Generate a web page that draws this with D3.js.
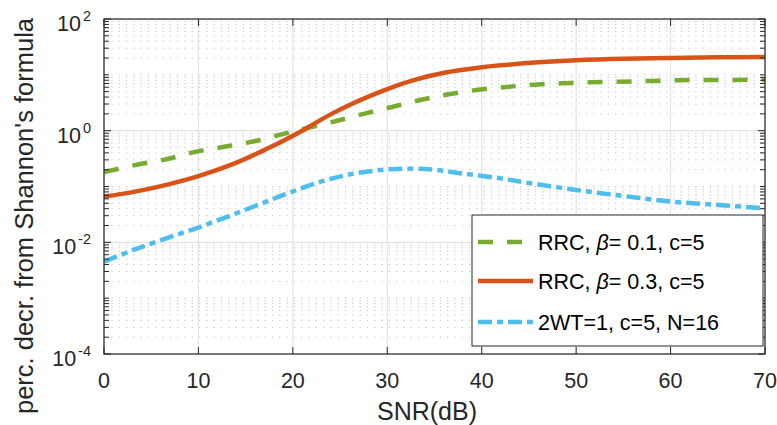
<!DOCTYPE html>
<html>
<head>
<meta charset="utf-8">
<script src="https://cdn.jsdelivr.net/npm/d3@7"></script>
<style>
  body { margin: 0; background: #fff; }
  svg { display: block; font-family: "Liberation Sans", Arial, Helvetica, sans-serif; }
</style>
</head>
<body>
<div id="graph"></div>
<script>
// values
const xTicks = [0, 10, 20, 30, 40, 50, 60, 70];
const yTickExp = [-4, -2, 0, 2];

const snrGreen = [0, 3.7, 6.7, 9.6, 12.6, 15.6, 18.6, 21.6, 24.6, 27.5, 30.5, 33.5, 36.5, 39.5, 42.6, 45.6, 48.6, 51.6, 54.7, 57.7, 60.8, 63.8, 66.8, 70];
const valGreen = [0.182, 0.25, 0.31, 0.415, 0.51, 0.63, 0.84, 1.12, 1.49, 2.0, 2.66, 3.55, 4.49, 5.36, 6.06, 6.67, 7.06, 7.36, 7.55, 7.77, 8.0, 8.09, 8.12, 8.2];

const snrRed = [0, 3, 6.5, 10, 13.7, 17.2, 19, 20.8, 22.5, 24.2, 26, 28, 30, 32.8, 36.3, 39.8, 42, 46, 50, 55, 60, 65, 70];
const valRed = [0.0658, 0.0794, 0.106, 0.153, 0.254, 0.468, 0.661, 0.955, 1.41, 2.04, 2.88, 4.07, 5.56, 8.04, 11.1, 13.5, 14.8, 16.8, 18.3, 19.5, 20.1, 20.6, 20.9];

const snrBlue = [0, 3.1, 6.6, 10.2, 13.7, 17.2, 19, 20.8, 22.5, 24.3, 26.1, 28, 29.6, 31, 32.5, 34, 35.2, 38.1, 41.6, 44.8, 50, 55, 60, 65, 70];
const valBlue = [0.0045, 0.0073, 0.0118, 0.019, 0.0316, 0.0537, 0.0708, 0.0912, 0.115, 0.141, 0.166, 0.186, 0.1995, 0.2065, 0.209, 0.2065, 0.198, 0.17, 0.143, 0.117, 0.0867, 0.0676, 0.0537, 0.0468, 0.0407];

const legendLabels = [
  ["RRC, ", "\u03b2", "= 0.1, c=5"],
  ["RRC, ", "\u03b2", "= 0.3, c=5"],
  ["2WT=1, c=5, N=16", "", ""]
];

const w = 777;
const h = 425;
const mLeft = 104, mRight = 765, mTop = 19, mBottom = 354;
const axisColor = "#262626";

const series = [
  { x: snrGreen, y: valGreen, color: "#77AC30", dash: "15,14" },
  { x: snrRed, y: valRed, color: "#D95319", dash: null },
  { x: snrBlue, y: valBlue, color: "#4DBEEE", dash: "14,5,6,5" }
];

const xScale = d3.scaleLinear().domain([0, 70]).range([mLeft, mRight]);
const yScale = d3.scaleLog().domain([1e-4, 1e2]).range([mBottom, mTop]);

const svg = d3.select("#graph")
  .append("svg")
  .attr("width", w)
  .attr("height", h);

svg.append("defs").append("clipPath")
  .attr("id", "clip")
  .append("rect")
  .attr("x", mLeft)
  .attr("y", mTop)
  .attr("width", mRight - mLeft)
  .attr("height", mBottom - mTop);

// minor y values: k*10^n, skipping the labelled decades
const minorY = [];
for (let e = -4; e < 2; e++) {
  for (let k = 1; k <= 9; k++) {
    if (k === 1 && yTickExp.includes(e)) continue;
    minorY.push(k * Math.pow(10, e));
  }
}

// grid
svg.append("g")
  .selectAll("line")
  .data(minorY)
  .enter()
  .append("line")
  .attr("x1", mLeft)
  .attr("x2", mRight)
  .attr("y1", (d) => yScale(d))
  .attr("y2", (d) => yScale(d))
  .attr("stroke", "#c4c4c4")
  .attr("stroke-width", 1)
  .attr("stroke-dasharray", "1.3,6");

svg.append("g")
  .selectAll("line")
  .data(yTickExp)
  .enter()
  .append("line")
  .attr("x1", mLeft)
  .attr("x2", mRight)
  .attr("y1", (d) => yScale(Math.pow(10, d)))
  .attr("y2", (d) => yScale(Math.pow(10, d)))
  .attr("stroke", "#e3e3e3")
  .attr("stroke-width", 1.2);

svg.append("g")
  .selectAll("line")
  .data(xTicks)
  .enter()
  .append("line")
  .attr("x1", (d) => xScale(d))
  .attr("x2", (d) => xScale(d))
  .attr("y1", mTop)
  .attr("y2", mBottom)
  .attr("stroke", "#e3e3e3")
  .attr("stroke-width", 1.2);

// curves
const plot = svg.append("g").attr("clip-path", "url(#clip)");
series.forEach(function (s) {
  const pts = s.x.map((v, i) => [v, s.y[i]]);
  const line = d3.line()
    .x((d) => xScale(d[0]))
    .y((d) => yScale(d[1]))
    .curve(d3.curveCatmullRom);
  plot.append("path")
    .datum(pts)
    .attr("d", line)
    .attr("fill", "none")
    .attr("stroke", s.color)
    .attr("stroke-width", 4.5)
    .attr("stroke-dasharray", s.dash);
});

// axes box and ticks
svg.append("rect")
  .attr("x", mLeft)
  .attr("y", mTop)
  .attr("width", mRight - mLeft)
  .attr("height", mBottom - mTop)
  .attr("fill", "none")
  .attr("stroke", axisColor)
  .attr("stroke-width", 1.2);

const ticks = svg.append("g").attr("stroke", axisColor).attr("stroke-width", 1);
xTicks.forEach(function (d) {
  const x = xScale(d);
  ticks.append("line").attr("x1", x).attr("x2", x).attr("y1", mBottom).attr("y2", mBottom - 7);
  ticks.append("line").attr("x1", x).attr("x2", x).attr("y1", mTop).attr("y2", mTop + 7);
});
minorY.concat(yTickExp.map((e) => Math.pow(10, e))).forEach(function (d) {
  const y = yScale(d);
  const len = minorY.includes(d) ? 5 : 7;
  ticks.append("line").attr("x1", mLeft).attr("x2", mLeft + len).attr("y1", y).attr("y2", y);
  ticks.append("line").attr("x1", mRight).attr("x2", mRight - len).attr("y1", y).attr("y2", y);
});

// tick labels
svg.append("g")
  .selectAll("text")
  .data(xTicks)
  .enter()
  .append("text")
  .attr("x", (d) => xScale(d))
  .attr("y", 388)
  .attr("text-anchor", "middle")
  .attr("font-size", 21.5)
  .attr("fill", axisColor)
  .text((d) => d);

const yl = svg.append("g")
  .selectAll("text")
  .data(yTickExp)
  .enter()
  .append("text")
  .attr("x", 91)
  .attr("y", (d) => yScale(Math.pow(10, d)) + 12)
  .attr("text-anchor", "end")
  .attr("font-size", 21.5)
  .attr("fill", axisColor);
yl.append("tspan").text("10");
yl.append("tspan")
  .attr("dx", 2)
  .attr("dy", -10)
  .attr("font-size", 14.5)
  .text((d) => d);

// axis titles
svg.append("text")
  .attr("x", 427)
  .attr("y", 420)
  .attr("text-anchor", "middle")
  .attr("font-size", 25)
  .attr("fill", axisColor)
  .text("SNR(dB)");

svg.append("text")
  .attr("transform", "translate(33, 216) rotate(-90)")
  .attr("text-anchor", "middle")
  .attr("font-size", 25.5)
  .attr("fill", axisColor)
  .text("perc. decr. from Shannon's formula");

// legend
const lg = svg.append("g");
lg.append("rect")
  .attr("x", 472)
  .attr("y", 215)
  .attr("width", 291)
  .attr("height", 131)
  .attr("fill", "#fff")
  .attr("stroke", axisColor)
  .attr("stroke-width", 1);

const rowY = [242, 281, 322];
series.forEach(function (s, i) {
  lg.append("line")
    .attr("x1", 478)
    .attr("x2", 533)
    .attr("y1", rowY[i])
    .attr("y2", rowY[i])
    .attr("stroke", s.color)
    .attr("stroke-width", 4.5)
    .attr("stroke-dasharray", s.dash);
  const t = lg.append("text")
    .attr("x", 538)
    .attr("y", rowY[i] + 8)
    .attr("font-size", 21.5)
    .attr("fill", "#000");
  t.append("tspan").text(legendLabels[i][0]);
  if (legendLabels[i][1]) {
    t.append("tspan").attr("font-style", "italic").text(legendLabels[i][1]);
    t.append("tspan").text(legendLabels[i][2]);
  }
});
</script>
</body>
</html>
